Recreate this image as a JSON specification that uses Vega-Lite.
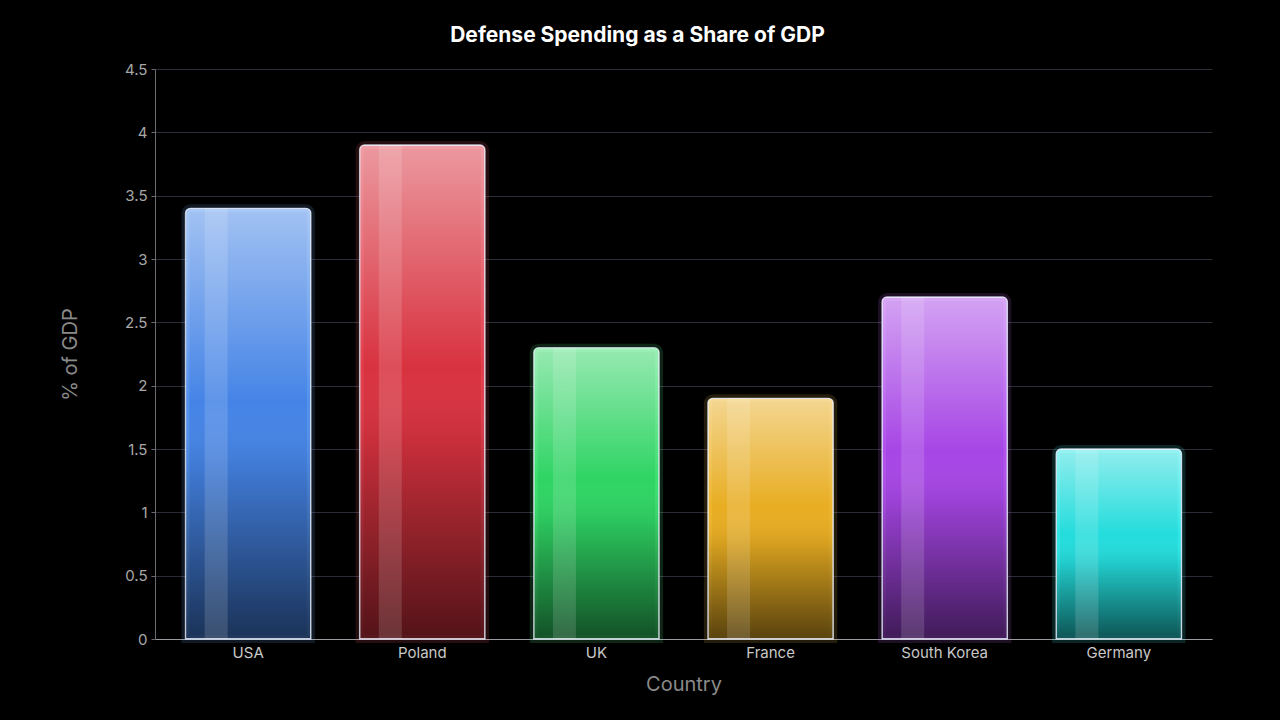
{
  "$schema": "https://vega.github.io/schema/vega-lite/v6.json",
  "width": 1057,
  "height": 570,
  "autosize": {"type": "none"},
  "padding": {"left": 155, "top": 69, "right": 68, "bottom": 81},
  "background": "#000000",
  "title": {
    "text": "Defense Spending as a Share of GDP",
    "color": "#ffffff",
    "font": "Inter",
    "fontSize": 21,
    "fontWeight": "bold",
    "anchor": "middle",
    "dx": -46,
    "offset": 16
  },
  "data": {
    "values": [
      {"country": "USA", "value": 3.4},
      {"country": "Poland", "value": 3.9},
      {"country": "UK", "value": 2.3},
      {"country": "France", "value": 1.9},
      {"country": "South Korea", "value": 2.7},
      {"country": "Germany", "value": 1.5}
    ]
  },
  "encoding": {
    "x": {
      "field": "country",
      "type": "nominal",
      "sort": null,
      "title": "Country",
      "scale": {"paddingInner": 0.28, "paddingOuter": 0.175},
      "axis": {
        "labelAngle": 0,
        "labelColor": "#c8c8c8",
        "labelFont": "Inter",
        "labelFontSize": 15,
        "labelPadding": 6,
        "titleColor": "#8a8a8a",
        "titleFont": "Inter",
        "titleFontSize": 20,
        "titleFontWeight": "normal",
        "titlePadding": 14,
        "domainColor": "#9a9aa0",
        "domainWidth": 1.2,
        "ticks": false,
        "grid": false
      }
    },
    "y": {
      "field": "value",
      "type": "quantitative",
      "title": "% of GDP",
      "scale": {"domain": [0, 4.5]},
      "axis": {
        "values": [0, 0.5, 1, 1.5, 2, 2.5, 3, 3.5, 4, 4.5],
        "format": "~g",
        "labelColor": "#a8a8a8",
        "labelFont": "Inter",
        "labelFontSize": 15,
        "labelPadding": 4,
        "titleColor": "#8a8a8a",
        "titleFont": "Inter",
        "titleFontSize": 20,
        "titleFontWeight": "normal",
        "titlePadding": 44,
        "domainColor": "#6a6a70",
        "domainWidth": 1,
        "ticks": true,
        "tickSize": 4,
        "tickColor": "#6a6a70",
        "gridColor": "#2c2c38",
        "gridWidth": 1
      }
    }
  },
  "layer": [
    {
      "mark": {"type": "bar", "cornerRadiusTopLeft": 5, "cornerRadiusTopRight": 5, "strokeWidth": 8, "strokeOpacity": 0.14},
      "encoding": {
        "color": {
          "field": "country",
          "type": "nominal",
          "legend": null,
          "scale": {
            "domain": ["USA", "Poland", "UK", "France", "South Korea", "Germany"],
            "range": ["#4584e6", "#d8323f", "#2fd464", "#e8ad22", "#a746e6", "#24dcdc"]
          }
        },
        "stroke": {
          "field": "country",
          "type": "nominal",
          "legend": null,
          "scale": {
            "domain": ["USA", "Poland", "UK", "France", "South Korea", "Germany"],
            "range": ["#7ab8ff", "#ff6070", "#60ff90", "#ffd050", "#d070ff", "#50ffff"]
          }
        }
      }
    },
    {
      "mark": {
        "type": "bar",
        "cornerRadiusTopLeft": 5,
        "cornerRadiusTopRight": 5,
        "fill": {
          "gradient": "linear",
          "x1": 0, "y1": 0, "x2": 0, "y2": 1,
          "stops": [
            {"offset": 0, "color": "rgba(255,255,255,0.5)"},
            {"offset": 0.45, "color": "rgba(255,255,255,0)"},
            {"offset": 0.6, "color": "rgba(0,0,0,0.08)"},
            {"offset": 1, "color": "rgba(0,0,0,0.62)"}
          ]
        },
        "stroke": "rgba(235,240,255,0.75)",
        "strokeWidth": 1.3
      }
    },
    {
      "mark": {
        "type": "bar",
        "width": 23,
        "xOffset": -32,
        "fill": "#ffffff",
        "fillOpacity": 0.14
      }
    }
  ],
  "config": {
    "view": {"stroke": null}
  }
}
